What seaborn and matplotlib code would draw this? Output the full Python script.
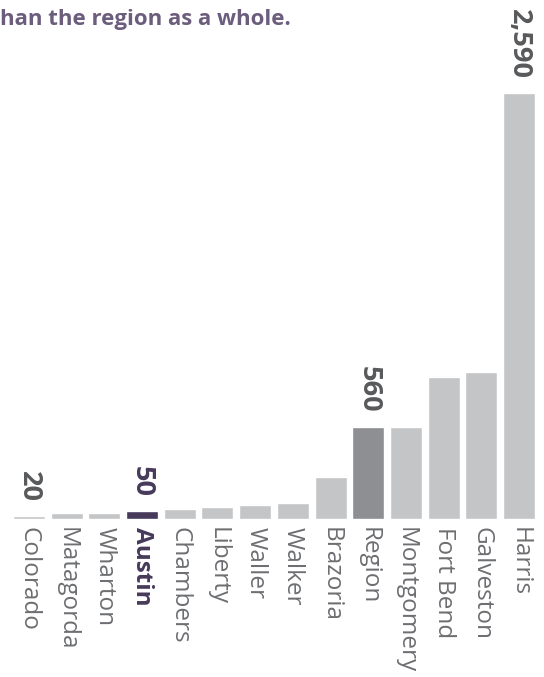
import matplotlib
matplotlib.use("Agg")
import matplotlib.pyplot as plt
import seaborn as sns
import pandas as pd

categories = ["Colorado", "Matagorda", "Wharton", "Austin", "Chambers", "Liberty",
              "Waller", "Walker", "Brazoria", "Region", "Montgomery", "Fort Bend",
              "Galveston", "Harris"]
values = [20, 35, 35, 50, 60, 70, 85, 100, 255, 560, 560, 865, 895, 2590]
labeled = ["Colorado", "Austin", "Region", "Harris"]
title_text = "han the region as a whole."

BAR = "#c4c5c7"
REGION = "#8e8f93"
AUSTIN = "#46395a"
TXT = "#6d6e71"
VAL = "#58595b"
TITLE = "#6b5d7b"

sns.set_theme(style="white")
plt.rcParams["font.family"] = ["Open Sans", "DejaVu Sans"]

W, H = 544, 677
fig = plt.figure(figsize=(W / 100, H / 100), dpi=100)
ax = fig.add_axes([10 / W, 1 - 519 / H, 528 / W, 519 / H])

df = pd.DataFrame({"cat": categories, "val": values})
palette = {c: BAR for c in categories}
palette["Region"] = REGION
palette["Austin"] = AUSTIN

sns.barplot(data=df, x="cat", y="val", hue="cat", palette=palette, order=categories,
            hue_order=categories, width=0.85, legend=False, ax=ax, saturation=1)

ax.set_ylim(0, 519 / 0.1645)
ax.set_xlim(-0.5, len(categories) - 0.5)
for s in ax.spines.values():
    s.set_visible(False)
ax.set_yticks([])
ax.set_xlabel("")
ax.set_ylabel("")
ax.set_xticks(range(len(categories)))
ax.set_xticklabels(categories, rotation=-90, fontsize=17.5, color=TXT, va="top", ha="center")
ax.tick_params(axis="x", length=0, pad=6)
for lab in ax.get_xticklabels():
    if lab.get_text() == "Austin":
        lab.set_color(AUSTIN)
        lab.set_fontweight("bold")

for i, (c, v) in enumerate(zip(categories, values)):
    if c in labeled:
        col = AUSTIN if c == "Austin" else VAL
        ax.annotate(f"{v:,}", xy=(i, v), xytext=(0, 10), textcoords="offset points",
                    rotation=-90, ha="center", va="bottom", fontsize=19.5,
                    fontweight="bold", color=col, annotation_clip=False)

fig.text(0.0, 1 - 25 / H, title_text, fontsize=16, fontweight="bold", color=TITLE,
         ha="left", va="baseline")

fig.savefig("out.png", dpi=100, facecolor="white")
